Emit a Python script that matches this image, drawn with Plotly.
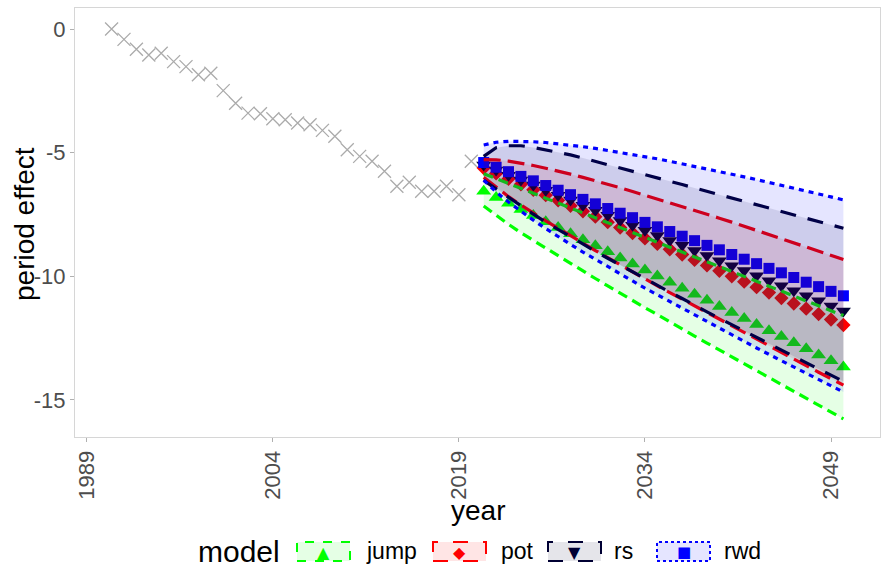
import plotly.graph_objects as go

# ---------------- data ----------------
hist_years = list(range(1991, 2021))
hist_values = [0.00, -0.42, -0.82, -1.05, -0.98, -1.32, -1.52, -1.85, -1.79, -2.49,
               -3.00, -3.40, -3.43, -3.63, -3.67, -3.80, -3.87, -4.10, -4.34, -4.88,
               -5.15, -5.35, -5.75, -6.36, -6.20, -6.56, -6.56, -6.36, -6.70, -5.35]

fc_years = list(range(2021, 2051))

jump_mean = [-6.56, -6.81, -7.05, -7.30, -7.54, -7.79, -8.03, -8.28, -8.52, -8.77,
             -9.01, -9.26, -9.50, -9.75, -9.99, -10.24, -10.48, -10.73, -10.97, -11.22,
             -11.46, -11.71, -11.95, -12.20, -12.44, -12.69, -12.93, -13.18, -13.42, -13.67]
jump_upper = [-5.85, -6.05, -6.25, -6.44, -6.64, -6.84, -7.04, -7.24, -7.43, -7.63,
              -7.83, -8.03, -8.23, -8.42, -8.62, -8.82, -9.02, -9.22, -9.41, -9.61,
              -9.81, -10.01, -10.21, -10.40, -10.60, -10.80, -11.00, -11.20, -11.39, -11.59]
jump_lower = [-7.16, -7.55, -7.90, -8.24, -8.55, -8.88, -9.18, -9.49, -9.79, -10.09,
              -10.39, -10.69, -10.97, -11.27, -11.55, -11.85, -12.13, -12.42, -12.70, -12.98,
              -13.26, -13.55, -13.82, -14.11, -14.38, -14.66, -14.94, -15.22, -15.49, -15.77]

pot_mean = [-5.62, -5.84, -6.06, -6.28, -6.50, -6.72, -6.93, -7.15, -7.37, -7.59,
            -7.81, -8.03, -8.25, -8.47, -8.69, -8.91, -9.12, -9.34, -9.56, -9.78,
            -10.00, -10.22, -10.44, -10.66, -10.88, -11.10, -11.31, -11.53, -11.75, -11.97]
pot_upper = [-5.28, -5.29, -5.34, -5.42, -5.52, -5.63, -5.74, -5.87, -6.00, -6.13,
             -6.27, -6.42, -6.57, -6.72, -6.87, -7.02, -7.17, -7.33, -7.49, -7.65,
             -7.81, -7.98, -8.14, -8.31, -8.48, -8.65, -8.81, -8.98, -9.15, -9.32]
pot_lower = [-6.00, -6.41, -6.78, -7.12, -7.45, -7.76, -8.06, -8.37, -8.67, -8.96,
             -9.25, -9.54, -9.82, -10.11, -10.39, -10.66, -10.93, -11.21, -11.48, -11.75,
             -12.02, -12.29, -12.56, -12.83, -13.09, -13.36, -13.61, -13.88, -14.14, -14.40]

rs_mean = [-5.50, -5.70, -5.91, -6.11, -6.31, -6.52, -6.72, -6.92, -7.13, -7.33,
           -7.53, -7.74, -7.94, -8.14, -8.35, -8.55, -8.75, -8.96, -9.16, -9.37,
           -9.57, -9.77, -9.98, -10.18, -10.38, -10.59, -10.79, -10.99, -11.20, -11.40]
rs_upper = [-5.15, -4.80, -4.72, -4.72, -4.79, -4.88, -4.98, -5.09, -5.22, -5.35,
            -5.48, -5.62, -5.75, -5.88, -6.02, -6.16, -6.29, -6.43, -6.56, -6.70,
            -6.83, -6.97, -7.11, -7.24, -7.38, -7.52, -7.65, -7.79, -7.93, -8.06]
rs_lower = [-6.12, -6.46, -6.83, -7.17, -7.49, -7.81, -8.11, -8.41, -8.71, -8.99,
            -9.27, -9.55, -9.83, -10.10, -10.37, -10.64, -10.90, -11.18, -11.44, -11.70,
            -11.96, -12.22, -12.48, -12.73, -12.99, -13.25, -13.50, -13.75, -14.00, -14.25]

rwd_mean = [-5.40, -5.59, -5.77, -5.96, -6.14, -6.33, -6.52, -6.70, -6.89, -7.07,
            -7.26, -7.45, -7.63, -7.82, -8.00, -8.19, -8.38, -8.56, -8.75, -8.93,
            -9.12, -9.31, -9.49, -9.68, -9.86, -10.05, -10.24, -10.42, -10.61, -10.79]
rwd_upper = [-4.69, -4.58, -4.54, -4.54, -4.56, -4.59, -4.64, -4.69, -4.76, -4.83,
             -4.91, -4.99, -5.07, -5.16, -5.25, -5.35, -5.45, -5.55, -5.65, -5.76,
             -5.87, -5.98, -6.09, -6.20, -6.31, -6.43, -6.55, -6.67, -6.79, -6.91]
rwd_lower = [-6.11, -6.59, -7.00, -7.38, -7.73, -8.07, -8.40, -8.71, -9.02, -9.32,
             -9.62, -9.91, -10.19, -10.48, -10.75, -11.03, -11.30, -11.58, -11.84, -12.11,
             -12.37, -12.64, -12.90, -13.16, -13.41, -13.67, -13.93, -14.18, -14.43, -14.68]

x_ticks = [1989, 2004, 2019, 2034, 2049]
y_ticks = [0, -5, -10, -15]

models = ["jump", "pot", "rs", "rwd"]
means = [jump_mean, pot_mean, rs_mean, rwd_mean]
uppers = [jump_upper, pot_upper, rs_upper, rwd_upper]
lowers = [jump_lower, pot_lower, rs_lower, rwd_lower]

# ---------------- styles ----------------
rgb = {"jump": (0, 255, 0), "pot": (255, 0, 0), "rs": (0, 0, 51), "rwd": (0, 0, 255)}
symbols = {"jump": "triangle-up", "pot": "diamond", "rs": "triangle-down", "rwd": "square"}
msize = {"jump": 13, "pot": 11, "rs": 13, "rwd": 11}
dashes = {"jump": "10px,6px", "pot": "17px,7px", "rs": "16px,12px", "rwd": "5px,5px"}
leg_dash = {"jump": "dash", "pot": "longdash", "rs": "longdash", "rwd": "dot"}
glyph = {"jump": "\u25B2", "pot": "\u25C6", "rs": "\u25BC", "rwd": "\u25A0"}
FILL_A = 0.1


def col(m, a=1.0):
    r, g, b = rgb[m]
    return f"rgba({r},{g},{b},{a})"


FONT = "Liberation Sans, Arial, sans-serif"

fig = go.Figure()

# historic
fig.add_trace(go.Scatter(
    x=hist_years, y=hist_values, mode="markers",
    marker=dict(symbol="x-thin", size=13, line=dict(width=1.3, color="#ababab")),
    showlegend=False, hoverinfo="skip"))

# forecast means (drawn first; ribbons overlay them)
for m, mv in zip(models, means):
    fig.add_trace(go.Scatter(
        x=fc_years, y=mv, mode="markers", name=m,
        marker=dict(symbol=symbols[m], size=msize[m], color=col(m), line=dict(width=0)),
        showlegend=False))

# ribbons with dashed bounds
for m, up, lo in zip(models, uppers, lowers):
    fig.add_trace(go.Scatter(
        x=fc_years, y=up, mode="lines",
        line=dict(color=col(m), width=3.2, dash=dashes[m]),
        showlegend=False, hoverinfo="skip"))
    fig.add_trace(go.Scatter(
        x=fc_years, y=lo, mode="lines", fill="tonexty", fillcolor=col(m, FILL_A),
        line=dict(color=col(m), width=3.2, dash=dashes[m]),
        showlegend=False, hoverinfo="skip"))

W, H = 884, 569
ML, MR, MT, MB = 75, 4, 8, 132
PW, PH = W - ML - MR, H - MT - MB


def fx(x):
    return (x - ML) / PW


def fy(y):
    return (H - MB - y) / PH


annotations = [
    dict(text="period effect", x=fx(24), y=fy(224), xref="paper", yref="paper",
         textangle=-90, showarrow=False, font=dict(size=28, color="black", family=FONT),
         xanchor="center", yanchor="middle"),
    dict(text="year", x=fx(478), y=fy(511), xref="paper", yref="paper",
         showarrow=False, font=dict(size=28, color="black", family=FONT),
         xanchor="center", yanchor="middle"),
    dict(text="model", x=fx(196), y=fy(551), xref="paper", yref="paper",
         showarrow=False, font=dict(size=30, color="black", family=FONT),
         xanchor="left", yanchor="middle"),
]
shapes = []

box_left = [297, 433, 548, 657]
label_left = [364, 499, 612, 722]
BOX_W, BOX_T, BOX_B = 53, 542, 561
for m, bl, ll in zip(models, box_left, label_left):
    shapes.append(dict(type="rect", xref="paper", yref="paper",
                       x0=fx(bl), x1=fx(bl + BOX_W), y0=fy(BOX_B), y1=fy(BOX_T),
                       fillcolor=col(m, FILL_A), line=dict(color=col(m), width=2, dash=leg_dash[m])))
    annotations.append(dict(text=glyph[m], x=fx(bl + BOX_W / 2), y=fy(552), xref="paper", yref="paper",
                            showarrow=False, font=dict(size=16 if m != "rwd" else 15, color=col(m),
                                                       family="DejaVu Sans"),
                            xanchor="center", yanchor="middle"))
    annotations.append(dict(text=m, x=fx(ll), y=fy(551), xref="paper", yref="paper",
                            showarrow=False, font=dict(size=23, color="black", family=FONT),
                            xanchor="left", yanchor="middle"))

fig.update_layout(
    width=W, height=H,
    margin=dict(l=ML, r=MR, t=MT, b=MB),
    paper_bgcolor="white", plot_bgcolor="white",
    font=dict(family=FONT),
    showlegend=False,
    annotations=annotations,
    shapes=shapes,
    xaxis=dict(range=[1988.05, 2052.95], tickvals=x_ticks, ticktext=[str(v) for v in x_ticks],
               tickangle=-90, showgrid=False, zeroline=False,
               showline=True, mirror=True, linecolor="#d6d6d6", linewidth=1,
               ticks="outside", ticklen=4, tickcolor="#b0b0b0",
               tickfont=dict(size=22, color="#4d4d4d", family=FONT)),
    yaxis=dict(range=[-16.5, 0.85], tickvals=y_ticks, ticktext=[str(v) for v in y_ticks],
               showgrid=False, zeroline=False,
               showline=True, mirror=True, linecolor="#d6d6d6", linewidth=1,
               ticks="outside", ticklen=4, tickcolor="#b0b0b0",
               tickfont=dict(size=22, color="#4d4d4d", family=FONT)),
)

fig.write_html("out.html")
